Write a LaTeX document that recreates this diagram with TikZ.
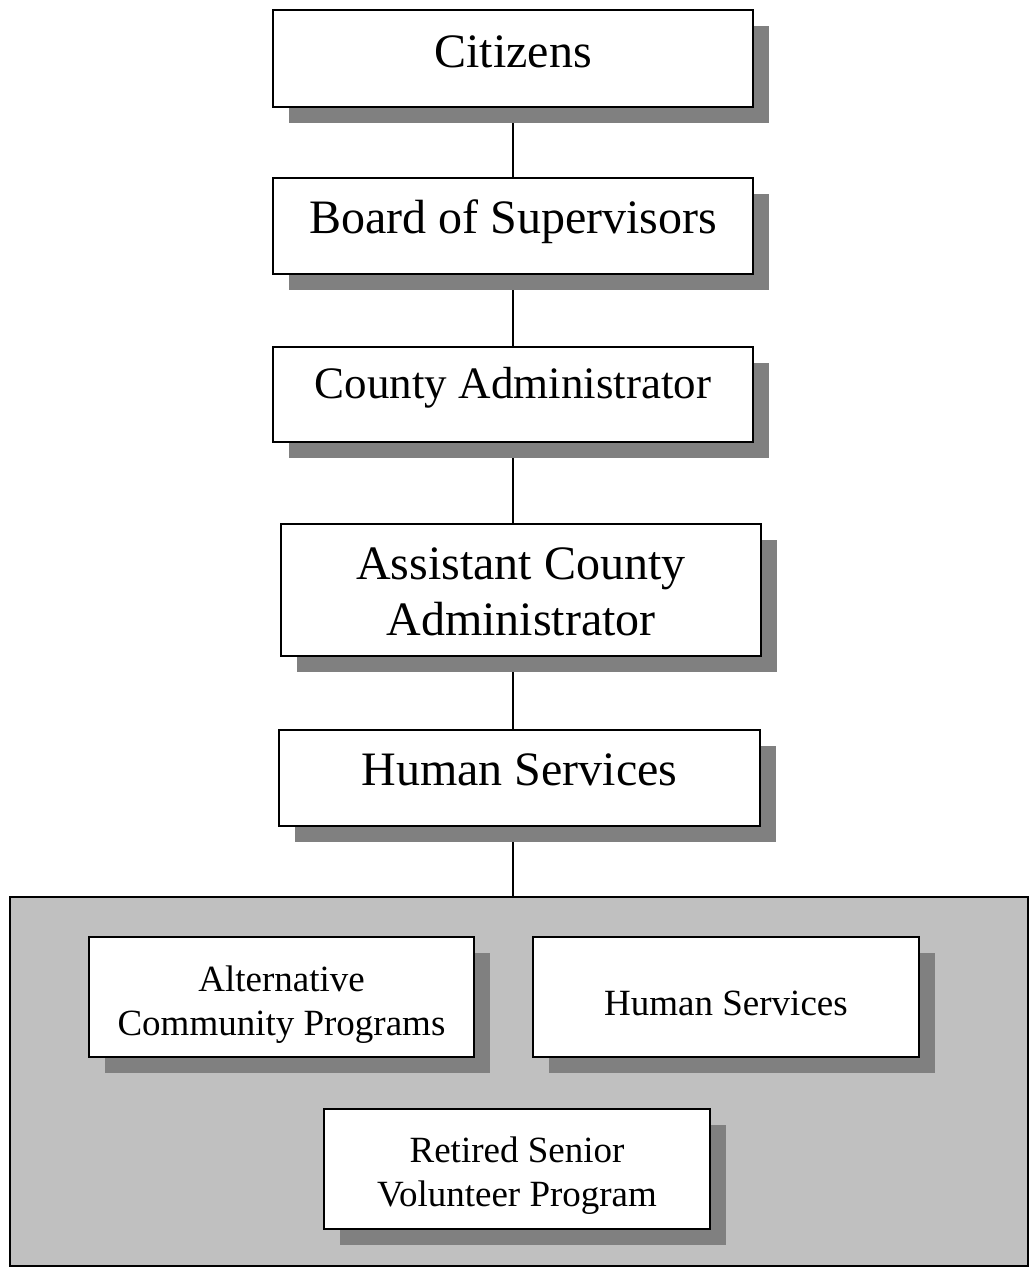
\documentclass[tikz,border=0pt]{standalone}
\usepackage{fontspec}
\setmainfont{Liberation Serif}
\pgfdeclarelayer{bg}
\pgfdeclarelayer{shadowlayer}
\pgfsetlayers{bg,shadowlayer,main}
\definecolor{shadowgray}{HTML}{808080}
\definecolor{panelgray}{HTML}{C0C0C0}
\newcommand{\orgbox}[5]{%
  \begin{pgfonlayer}{shadowlayer}
    \fill[shadowgray] ({#2-#4/2+16},{#3-#5/2+16}) rectangle ({#2+#4/2+16},{#3+#5/2+16});
  \end{pgfonlayer}
  \node[box, minimum width=#4pt, minimum height=#5pt] (#1) at (#2,#3) {};
}
\begin{document}
\begin{tikzpicture}[x=1pt,y=-1pt,
  box/.style={draw=black, line width=1.6pt, fill=white, inner sep=0pt},
  big/.style={font=\fontsize{48}{56}\selectfont, align=center, inner sep=0pt, anchor=base},
  mid/.style={font=\fontsize{45}{54}\selectfont, align=center, inner sep=0pt, anchor=base},
  small/.style={font=\fontsize{37}{44}\selectfont, align=center, inner sep=0pt, anchor=base},
  link/.style={draw=black, line width=1.3pt}]
\useasboundingbox (0,0) rectangle (1030,1277);
% panel
\begin{pgfonlayer}{bg}
\node[draw=black, line width=1.6pt, fill=panelgray, minimum width=1018pt, minimum height=369pt, inner sep=0pt] (panel) at (519,1081.5) {};
\end{pgfonlayer}
% boxes
\orgbox{cit}{513}{58.5}{480}{97}
\orgbox{bos}{513}{226}{480}{96}
\orgbox{ca}{513}{394.5}{480}{95}
\orgbox{aca}{521}{590}{480}{132}
\orgbox{hs}{519.5}{778}{481}{96}
\orgbox{acp}{281.5}{997}{385}{120}
\orgbox{hss}{726}{997}{386}{120}
\orgbox{rsvp}{517}{1169}{386}{120}
% texts (anchor=base is the baseline of the last line)
\node[big] (tcit) at (513,67) {Citizens};
\node[big] (tbos) at (513,233) {Board of Supervisors};
\node[mid] (tca) at (513,398) {County Administrator};
\node[big] (taca) at (521,635) {Assistant County\\Administrator};
\node[big] (ths) at (519.5,785) {Human Services};
\node[small] (tacp) at (281.5,1035) {Alternative\\Community Programs};
\node[small] (thss) at (726,1015) {Human Services};
\node[small] (trsvp) at (517,1206) {Retired Senior\\Volunteer Program};
% connectors
\begin{pgfonlayer}{bg}
\draw[link] (cit.south) -- (bos.north);
\draw[link] (bos.south) -- (ca.north);
\draw[link] (ca.south) -- (ca.south |- aca.north);
\draw[link] (ca.south |- aca.south) -- (ca.south |- hs.north);
\draw[link] (ca.south |- hs.south) -- (ca.south |- panel.north);
\end{pgfonlayer}
\end{tikzpicture}
\end{document}
